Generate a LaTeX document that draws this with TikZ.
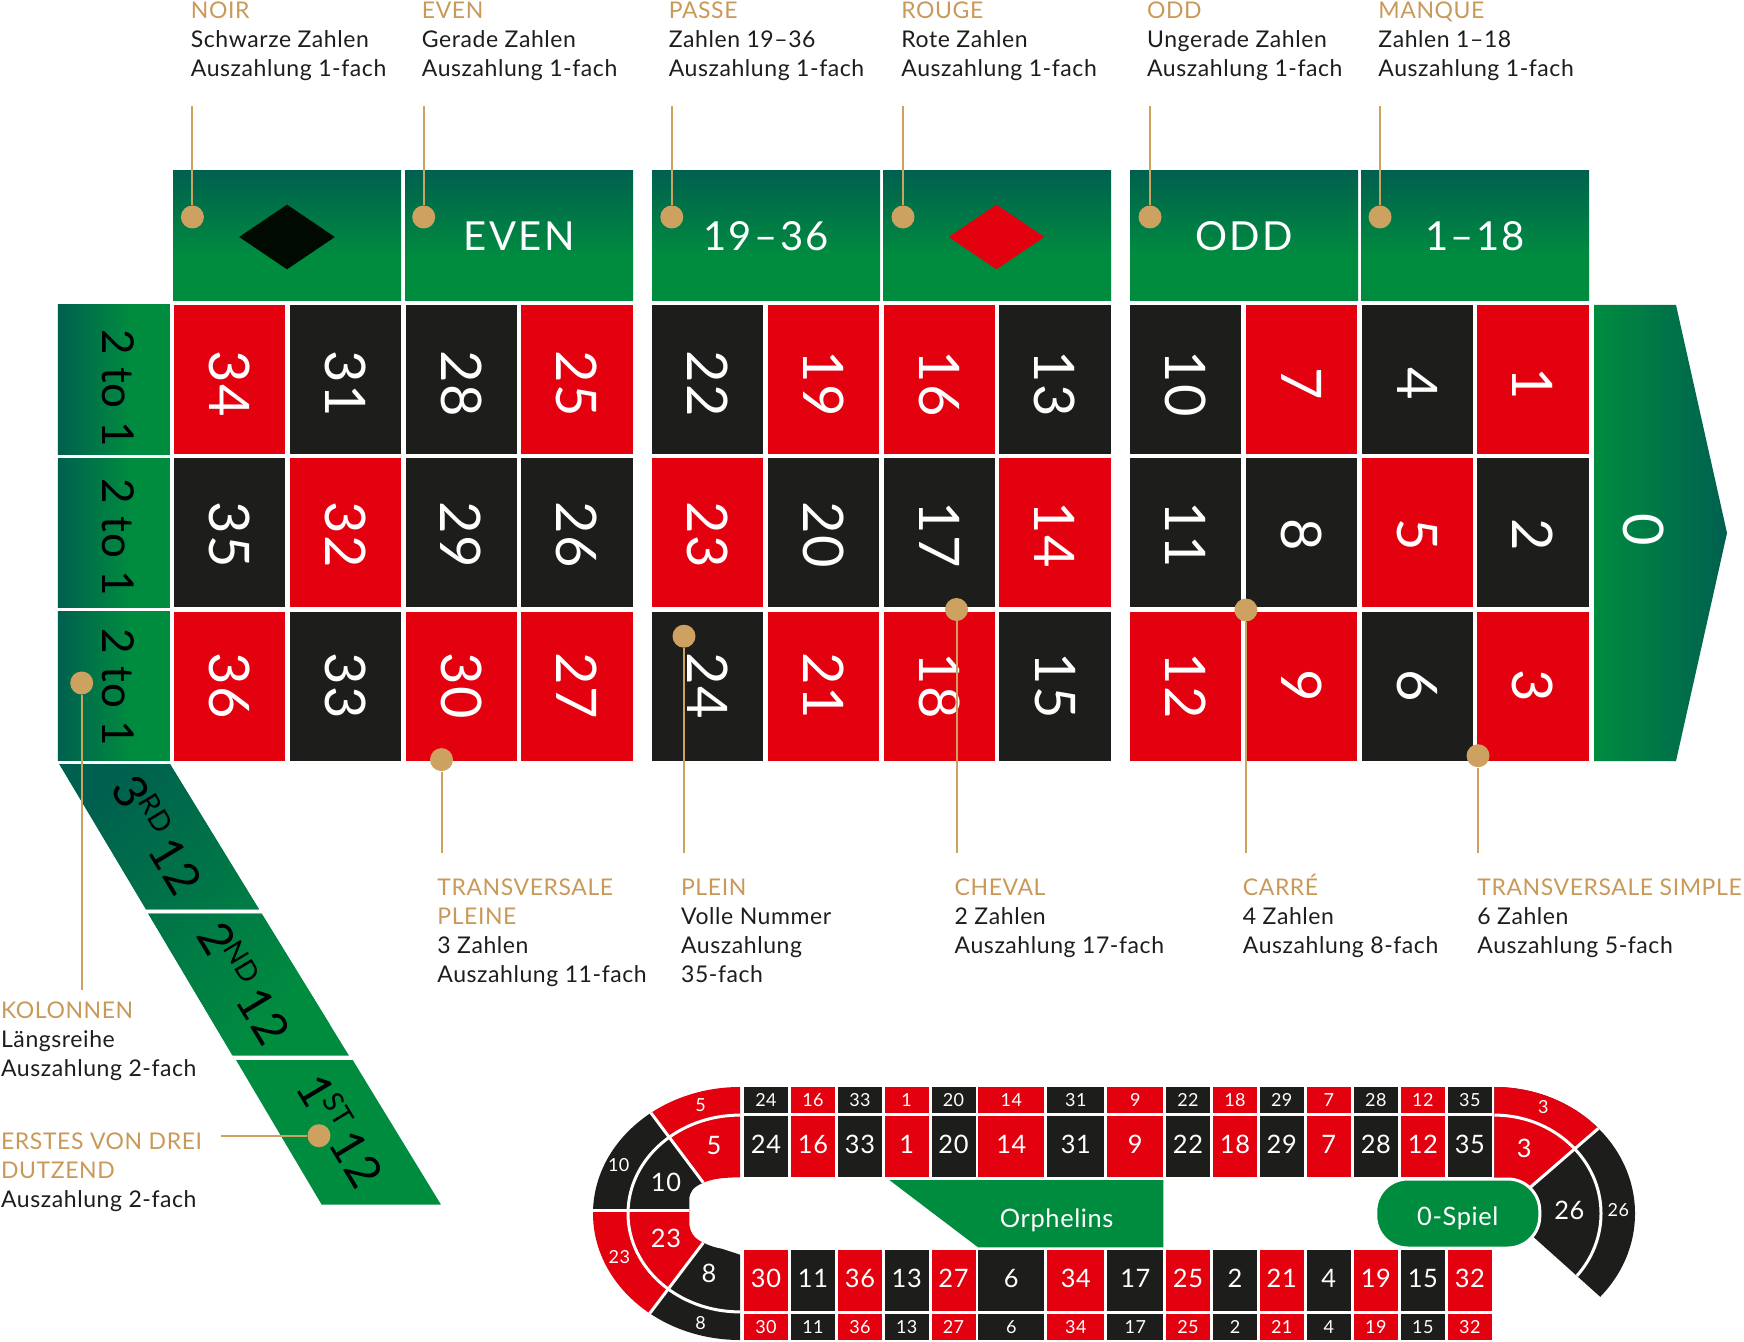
\documentclass[tikz,border=0pt]{standalone}
\usepackage{fontspec}
\setmainfont[LetterSpace=2.5]{Lato}
\newfontfamily\headfont[LetterSpace=6]{Lato}
\usetikzlibrary{shapes.geometric}
\definecolor{cellred}{HTML}{E3000F}
\definecolor{cellblack}{HTML}{1D1D1B}
\definecolor{feltgreen}{HTML}{008C3F}
\definecolor{feltdark}{HTML}{00604F}
\definecolor{labelgold}{HTML}{C9995A}
\definecolor{dotgold}{HTML}{CDA160}
\definecolor{noirblack}{HTML}{000A00}
\pgfdeclareverticalshading{feltfade}{100bp}{color(0bp)=(feltgreen); color(42bp)=(feltgreen); color(75bp)=(feltdark); color(100bp)=(feltdark)}
\newcommand{\labelhead}[1]{\rule{0pt}{11pt}\textcolor{labelgold}{#1}}
\newcommand{\ordsup}[1]{\kern-.04em\smash{\raisebox{.36em}{\fontsize{14}{14}\selectfont #1}}}
\tikzset{
	cell/.style={rotate=-90, inner sep=0, minimum width=74.5pt, minimum height=55.65pt, text=white, font=\fontsize{28}{28}\selectfont},
	rowa/.style={cell, execute at begin node=\hspace*{4.4pt}},
	rowb/.style={cell, execute at begin node=\hspace*{2.2pt}},
	sidebet/.style={inner sep=0, minimum width=56pt, minimum height=74.5pt, shading=feltfade, shading angle=90},
	sidetext/.style={rotate=-90, inner sep=0, text=black, font=\fontsize{22}{22}\selectfont},
	header/.style={inner sep=0, minimum width=114pt, minimum height=65pt, shading=feltfade, text=white, font=\headfont\fontsize{20}{20}\selectfont},
	bigcell/.style={inner sep=0, minimum width=22pt, minimum height=30.4pt, text depth=2.5pt, text=white, font=\fontsize{12.7}{13}\selectfont},
	smallcell/.style={inner sep=0, minimum width=22pt, minimum height=13.15pt, text=white, font=\fontsize{9}{9}\selectfont},
	tracktext/.style={inner sep=0, text=white, font=\fontsize{12.7}{13}\selectfont},
	tracksmall/.style={inner sep=0, text=white, font=\fontsize{9}{9}\selectfont},
	dozen/.style={rotate=-59, inner sep=0, text=black, font=\fontsize{23.5}{24}\selectfont},
	dot/.style={circle, fill=dotgold, inner sep=0, minimum size=11.5pt},
	leader/.style={draw=dotgold, line width=1pt},
	caption/.style={anchor=north west, inner sep=0, align=left, text=cellblack, font=\fontsize{11.5}{14.5}\selectfont},
	gap/.style={draw=white, line width=1.5pt}
}
\begin{document}
\begin{tikzpicture}[x=0.5pt, y=-0.5pt]
	\useasboundingbox (0, 0) rectangle (1744, 1342);
	% outside bets
	\node[header] (hnoir) at (287, 236) {};
	\node[header] (heven) at (519, 236) {EVEN};
	\node[header] (hpasse) at (766, 236) {19–36};
	\node[header] (hrouge) at (997, 236) {};
	\node[header] (hodd) at (1244, 236) {ODD};
	\node[header] (hmanque) at (1475, 236) {1–18};
	\node[diamond, fill=noirblack, inner sep=0, minimum width=48pt, minimum height=32.5pt] (dnoir) at (287, 237) {};
	\node[diamond, fill=cellred, inner sep=0, minimum width=48pt, minimum height=32.5pt] (drouge) at (996.5, 237) {};
	% number grid
	\node[sidebet] (side1) at (113.8, 379.5) {}; \node[sidetext] (sidetext1) at (117.8, 388) {2 to 1};
	\node[sidebet] (side2) at (113.8, 532.5) {}; \node[sidetext] (sidetext2) at (117.8, 537.5) {2 to 1};
	\node[sidebet] (side3) at (113.8, 686) {}; \node[sidetext] (sidetext3) at (117.8, 687.7) {2 to 1};
	\node[rowa, fill=cellred] (c34) at (229.6, 379.5) {34}; \node[rowb, fill=cellblack] (c35) at (229.6, 532.5) {35}; \node[cell, fill=cellred] (c36) at (229.6, 686) {36};
	\node[rowa, fill=cellblack] (c31) at (345.4, 379.5) {31}; \node[rowb, fill=cellred] (c32) at (345.4, 532.5) {32}; \node[cell, fill=cellblack] (c33) at (345.4, 686) {33};
	\node[rowa, fill=cellblack] (c28) at (461.2, 379.5) {28}; \node[rowb, fill=cellblack] (c29) at (461.2, 532.5) {29}; \node[cell, fill=cellred] (c30) at (461.2, 686) {30};
	\node[rowa, fill=cellred] (c25) at (577, 379.5) {25}; \node[rowb, fill=cellblack] (c26) at (577, 532.5) {26}; \node[cell, fill=cellred] (c27) at (577, 686) {27};
	\node[rowa, fill=cellblack] (c22) at (707.6, 379.5) {22}; \node[rowb, fill=cellred] (c23) at (707.6, 532.5) {23}; \node[cell, fill=cellblack] (c24) at (707.6, 686) {24};
	\node[rowa, fill=cellred] (c19) at (823.4, 379.5) {19}; \node[rowb, fill=cellblack] (c20) at (823.4, 532.5) {20}; \node[cell, fill=cellred] (c21) at (823.4, 686) {21};
	\node[rowa, fill=cellred] (c16) at (939.2, 379.5) {16}; \node[rowb, fill=cellblack] (c17) at (939.2, 532.5) {17}; \node[cell, fill=cellred] (c18) at (939.2, 686) {18};
	\node[rowa, fill=cellblack] (c13) at (1055, 379.5) {13}; \node[rowb, fill=cellred] (c14) at (1055, 532.5) {14}; \node[cell, fill=cellblack] (c15) at (1055, 686) {15};
	\node[rowa, fill=cellblack] (c10) at (1185.6, 379.5) {10}; \node[rowb, fill=cellblack] (c11) at (1185.6, 532.5) {11}; \node[cell, fill=cellred] (c12) at (1185.6, 686) {12};
	\node[rowa, fill=cellred] (c7) at (1301.4, 379.5) {7}; \node[rowb, fill=cellblack] (c8) at (1301.4, 532.5) {8}; \node[cell, fill=cellred] (c9) at (1301.4, 686) {9};
	\node[rowa, fill=cellblack] (c4) at (1417.2, 379.5) {4}; \node[rowb, fill=cellred] (c5) at (1417.2, 532.5) {5}; \node[cell, fill=cellblack] (c6) at (1417.2, 686) {6};
	\node[rowa, fill=cellred] (c1) at (1533, 379.5) {1}; \node[rowb, fill=cellblack] (c2) at (1533, 532.5) {2}; \node[cell, fill=cellred] (c3) at (1533, 686) {3};
	% zero
	\shade[left color=feltgreen, middle color=feltgreen, right color=feltdark] (1594, 305) -- (1676, 305) -- (1727, 533) -- (1676, 761) -- (1594, 761) -- cycle;
	\node[rotate=-90, inner sep=0, text=white, font=\fontsize{28}{28}\selectfont] (c0) at (1644, 530) {0};
	% dozens
	\begin{scope}
		\clip (59.3, 764) -- (170, 764) -- (259, 909.3) -- (146, 909.3) -- cycle
			(148.3, 913.7) -- (261.7, 913.7) -- (349, 1055.7) -- (232.7, 1055.7) -- cycle
			(236, 1060) -- (352.7, 1060) -- (441, 1204.7) -- (321.7, 1204.7) -- cycle;
		\fill[feltgreen] (50, 760) rectangle (450, 1210);
		\shade[top color=feltdark, bottom color=feltgreen, shading angle=45] (40, 764) rectangle (330, 1054);
	\end{scope}
	\node[dozen] (third) at (157, 835) {3\ordsup{RD}\,12};
	\node[dozen] (second) at (243.7, 983) {2\ordsup{ND}\,12};
	\node[dozen] (first) at (340, 1130.7) {1\ordsup{ST}\,12};
	% racetrack
	\begin{scope}
		\clip (740, 1087) .. controls (659, 1087) and (593, 1143.6) .. (593, 1213.5) .. controls (593, 1283.4) and (659, 1340) .. (740, 1340) -- (740, 1250.3)
			.. controls (722, 1250) and (712, 1247) .. (703.3, 1242.7) .. controls (693, 1238) and (689.3, 1231) .. (689.3, 1222) -- (689.3, 1200)
			.. controls (689.3, 1192) and (693, 1187) .. (703.3, 1182.7) .. controls (712, 1179) and (722, 1177.5) .. (740, 1177.3) -- cycle;
		\fill[cellred] (741, 1080) -- (630, 1085) -- (703.3, 1182.7) -- (741, 1190) -- cycle;
		\fill[cellblack] (630, 1085) -- (703.3, 1182.7) -- (703.3, 1210.7) -- (580, 1210.7) -- (580, 1085) -- cycle;
		\fill[cellred] (580, 1210.7) -- (703.3, 1210.7) -- (703.3, 1242.7) -- (622, 1350) -- (580, 1350) -- cycle;
		\fill[cellblack] (741, 1345) -- (622, 1350) -- (703.3, 1242.7) -- (741, 1255) -- cycle;
		\draw[gap] (630, 1085) -- (703.3, 1182.7);
		\draw[gap] (622, 1350) -- (703.3, 1242.7);
		\draw[gap] (580, 1210.7) -- (703.3, 1210.7);
		\draw[gap] (740, 1213.5) ellipse [x radius=56pt, y radius=49.2pt];
	\end{scope}
	\begin{scope}
		\clip (1494.3, 1080) -- (1660, 1080) -- (1660, 1350.4) -- (1520, 1224.9) -- (1494.3, 1224.9) -- cycle;
		\clip (1494.3, 1213.5) ellipse [x radius=70.35pt, y radius=63.25pt];
		\fill[cellblack] (1490, 1080) rectangle (1660, 1350);
		\fill[cellred] (1494.3, 1080) -- (1654.3, 1080) -- (1520, 1196.2) -- (1494.3, 1196.2) -- cycle;
		\draw[gap] (1654.3, 1080) -- (1520, 1196.2);
		\draw[gap] (1494.3, 1213.5) ellipse [x radius=53.35pt, y radius=49.2pt];
	\end{scope}
	\node[tracksmall] (l5) at (700.7, 1105) {5};
	\node[tracksmall] (l10) at (618.7, 1165.3) {10};
	\node[tracksmall] (l23) at (619.3, 1257.3) {23};
	\node[tracksmall] (l8) at (700.7, 1323.3) {8};
	\node[tracktext] (m5) at (714, 1145) {5};
	\node[tracktext] (m10) at (666, 1182.7) {10};
	\node[tracktext] (m23) at (666, 1238.3) {23};
	\node[tracktext] (m8) at (709, 1273.3) {8};
	\node[tracksmall] (l3) at (1543.3, 1106.7) {3};
	\node[tracktext] (m3) at (1524.3, 1148.3) {3};
	\node[tracktext] (m26) at (1569.3, 1210) {26};
	\node[tracksmall] (l26) at (1618.3, 1210) {26};
	% track top
	\node[smallcell, fill=cellblack] (s24) at (766, 1100.2) {24}; \node[bigcell, fill=cellblack] (b24) at (766, 1146.8) {24};
	\node[smallcell, fill=cellred] (s16) at (813, 1100.2) {16}; \node[bigcell, fill=cellred] (b16) at (813, 1146.8) {16};
	\node[smallcell, fill=cellblack] (s33) at (860, 1100.2) {33}; \node[bigcell, fill=cellblack] (b33) at (860, 1146.8) {33};
	\node[smallcell, fill=cellred] (s1) at (906.7, 1100.2) {1}; \node[bigcell, fill=cellred] (b1) at (906.7, 1146.8) {1};
	\node[smallcell, fill=cellblack] (s20) at (953.5, 1100.2) {20}; \node[bigcell, fill=cellblack] (b20) at (953.5, 1146.8) {20};
	\node[smallcell, fill=cellred, minimum width=33pt] (s14) at (1011.3, 1100.2) {14}; \node[bigcell, fill=cellred, minimum width=33pt] (b14) at (1011.3, 1146.8) {14};
	\node[smallcell, fill=cellblack, minimum width=28.5pt] (s31) at (1075.8, 1100.2) {31}; \node[bigcell, fill=cellblack, minimum width=28.5pt] (b31) at (1075.8, 1146.8) {31};
	\node[smallcell, fill=cellred, minimum width=28pt] (s9) at (1135.3, 1100.2) {9}; \node[bigcell, fill=cellred, minimum width=28pt] (b9) at (1135.3, 1146.8) {9};
	\node[smallcell, fill=cellblack] (s22) at (1188, 1100.2) {22}; \node[bigcell, fill=cellblack] (b22) at (1188, 1146.8) {22};
	\node[smallcell, fill=cellred] (s18) at (1235, 1100.2) {18}; \node[bigcell, fill=cellred] (b18) at (1235, 1146.8) {18};
	\node[smallcell, fill=cellblack] (s29) at (1281.7, 1100.2) {29}; \node[bigcell, fill=cellblack] (b29) at (1281.7, 1146.8) {29};
	\node[smallcell, fill=cellred] (s7) at (1328.8, 1100.2) {7}; \node[bigcell, fill=cellred] (b7) at (1328.8, 1146.8) {7};
	\node[smallcell, fill=cellblack] (s28) at (1375.8, 1100.2) {28}; \node[bigcell, fill=cellblack] (b28) at (1375.8, 1146.8) {28};
	\node[smallcell, fill=cellred] (s12) at (1422.8, 1100.2) {12}; \node[bigcell, fill=cellred] (b12) at (1422.8, 1146.8) {12};
	\node[smallcell, fill=cellblack] (s35) at (1469.8, 1100.2) {35}; \node[bigcell, fill=cellblack] (b35) at (1469.8, 1146.8) {35};
	% track bottom
	\node[bigcell, fill=cellred] (b30) at (766, 1280.5) {30}; \node[smallcell, fill=cellred] (s30) at (766, 1326.8) {30};
	\node[bigcell, fill=cellblack] (b11) at (813, 1280.5) {11}; \node[smallcell, fill=cellblack] (s11) at (813, 1326.8) {11};
	\node[bigcell, fill=cellred] (b36) at (860, 1280.5) {36}; \node[smallcell, fill=cellred] (s36) at (860, 1326.8) {36};
	\node[bigcell, fill=cellblack] (b13) at (906.7, 1280.5) {13}; \node[smallcell, fill=cellblack] (s13) at (906.7, 1326.8) {13};
	\node[bigcell, fill=cellred] (b27) at (953.5, 1280.5) {27}; \node[smallcell, fill=cellred] (s27) at (953.5, 1326.8) {27};
	\node[bigcell, fill=cellblack, minimum width=33pt] (b6) at (1011.3, 1280.5) {6}; \node[smallcell, fill=cellblack, minimum width=33pt] (s6) at (1011.3, 1326.8) {6};
	\node[bigcell, fill=cellred, minimum width=28.5pt] (b34) at (1075.8, 1280.5) {34}; \node[smallcell, fill=cellred, minimum width=28.5pt] (s34) at (1075.8, 1326.8) {34};
	\node[bigcell, fill=cellblack, minimum width=28pt] (b17) at (1135.3, 1280.5) {17}; \node[smallcell, fill=cellblack, minimum width=28pt] (s17) at (1135.3, 1326.8) {17};
	\node[bigcell, fill=cellred] (b25) at (1188, 1280.5) {25}; \node[smallcell, fill=cellred] (s25) at (1188, 1326.8) {25};
	\node[bigcell, fill=cellblack] (b2) at (1235, 1280.5) {2}; \node[smallcell, fill=cellblack] (s2) at (1235, 1326.8) {2};
	\node[bigcell, fill=cellred] (b21) at (1281.7, 1280.5) {21}; \node[smallcell, fill=cellred] (s21) at (1281.7, 1326.8) {21};
	\node[bigcell, fill=cellblack] (b4) at (1328.8, 1280.5) {4}; \node[smallcell, fill=cellblack] (s4) at (1328.8, 1326.8) {4};
	\node[bigcell, fill=cellred] (b19) at (1375.8, 1280.5) {19}; \node[smallcell, fill=cellred] (s19) at (1375.8, 1326.8) {19};
	\node[bigcell, fill=cellblack] (b15) at (1422.8, 1280.5) {15}; \node[smallcell, fill=cellblack] (s15) at (1422.8, 1326.8) {15};
	\node[bigcell, fill=cellred] (b32) at (1469.8, 1280.5) {32}; \node[smallcell, fill=cellred] (s32) at (1469.8, 1326.8) {32};
	% neighbour bets
	\fill[feltgreen] (889.3, 1180) -- (1163.3, 1180) -- (1163.3, 1247.3) -- (978, 1247.3) -- cycle;
	\node[tracktext] (orphelins) at (1056.7, 1220) {Orphelins};
	\node[draw=white, line width=1.5pt, fill=feltgreen, rounded corners=16pt, inner sep=0, minimum width=82pt, minimum height=34.5pt, text depth=0pt, text height=12.4pt, text=white, font=\fontsize{12.7}{13}\selectfont] (spiel) at (1457.8, 1213.5) {0-Spiel};
	% labels
	\node[dot] (noirdot) at (192.4, 217) {}; \coordinate (noirend) at (192.4, 105.7);
	\node[dot] (evendot) at (423.7, 217) {}; \coordinate (evenend) at (423.7, 105.7);
	\node[dot] (passedot) at (671.8, 217) {}; \coordinate (passeend) at (671.8, 105.7);
	\node[dot] (rougedot) at (903, 217) {}; \coordinate (rougeend) at (903, 105.7);
	\node[dot] (odddot) at (1150, 217) {}; \coordinate (oddend) at (1150, 105.7);
	\node[dot] (manquedot) at (1380, 217) {}; \coordinate (manqueend) at (1380, 105.7);
	\node[dot] (pleinedot) at (441.5, 759.6) {}; \coordinate (pleineend) at (441.5, 853);
	\node[dot] (pleindot) at (684, 636.2) {}; \coordinate (pleinend) at (684, 853);
	\node[dot] (chevaldot) at (956.5, 609.5) {}; \coordinate (chevalend) at (956.5, 853);
	\node[dot] (carredot) at (1245.9, 610) {}; \coordinate (carreend) at (1245.9, 853);
	\node[dot] (simpledot) at (1478, 755.7) {}; \coordinate (simpleend) at (1478, 853);
	\node[dot] (kolonnendot) at (81.7, 683) {}; \coordinate (kolonnenend) at (81.7, 990);
	\node[dot] (erstesdot) at (319, 1135.7) {}; \coordinate (erstesend) at (220.7, 1135.7);
	\draw[leader] (noirdot) -- (noirend);
	\draw[leader] (evendot) -- (evenend);
	\draw[leader] (passedot) -- (passeend);
	\draw[leader] (rougedot) -- (rougeend);
	\draw[leader] (odddot) -- (oddend);
	\draw[leader] (manquedot) -- (manqueend);
	\draw[leader] (pleinedot) -- (pleineend);
	\draw[leader] (pleindot) -- (pleinend);
	\draw[leader] (chevaldot) -- (chevalend);
	\draw[leader] (carredot) -- (carreend);
	\draw[leader] (simpledot) -- (simpleend);
	\draw[leader] (kolonnendot) -- (kolonnenend);
	\draw[leader] (erstesdot) -- (erstesend);
	\node[caption] (noirtext) at (190.5, -4) {\labelhead{NOIR}\\Schwarze Zahlen\\Auszahlung 1-fach};
	\node[caption] (eventext) at (421.5, -4) {\labelhead{EVEN}\\Gerade Zahlen\\Auszahlung 1-fach};
	\node[caption] (passetext) at (668.4, -4) {\labelhead{PASSE}\\Zahlen 19–36\\Auszahlung 1-fach};
	\node[caption] (rougetext) at (901, -4) {\labelhead{ROUGE}\\Rote Zahlen\\Auszahlung 1-fach};
	\node[caption] (oddtext) at (1146.7, -4) {\labelhead{ODD}\\Ungerade Zahlen\\Auszahlung 1-fach};
	\node[caption] (manquetext) at (1378, -4) {\labelhead{MANQUE}\\Zahlen 1–18\\Auszahlung 1-fach};
	\node[caption] (pleinetext) at (437, 873) {\labelhead{TRANSVERSALE}\\\labelhead{PLEINE}\\3 Zahlen\\Auszahlung 11-fach};
	\node[caption] (pleintext) at (680.7, 873) {\labelhead{PLEIN}\\Volle Nummer\\Auszahlung\\35-fach};
	\node[caption] (chevaltext) at (954.3, 873) {\labelhead{CHEVAL}\\2 Zahlen\\Auszahlung 17-fach};
	\node[caption] (carretext) at (1242.5, 873) {\labelhead{CARRÉ}\\4 Zahlen\\Auszahlung 8-fach};
	\node[caption] (simpletext) at (1477, 873) {\labelhead{TRANSVERSALE SIMPLE}\\6 Zahlen\\Auszahlung 5-fach};
	\node[caption] (kolonnentext) at (0.7, 995.7) {\labelhead{KOLONNEN}\\Längsreihe\\Auszahlung 2-fach};
	\node[caption] (erstestext) at (0.7, 1127) {\labelhead{ERSTES VON DREI}\\\labelhead{DUTZEND}\\Auszahlung 2-fach};
\end{tikzpicture}
\end{document}
